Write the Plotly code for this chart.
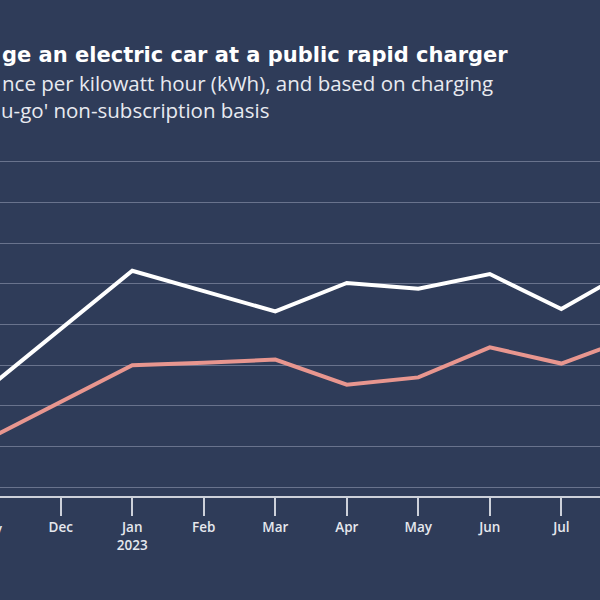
import plotly.graph_objects as go

months = ["Nov", "Dec", "Jan", "Feb", "Mar", "Apr", "May", "Jun", "Jul", "Aug"]
tick_labels = ["Nov", "Dec", "Jan<br>2023", "Feb", "Mar", "Apr", "May", "Jun", "Jul", "Aug"]
# pence per kWh
series_white = [62.3, 69.4, 76.6, 74.1, 71.6, 75.1, 74.4, 76.2, 71.9, 76.9]
series_pink = [56.0, 60.5, 65.0, 65.3, 65.7, 62.6, 63.5, 67.2, 65.2, 68.4]
grid_vals = [50, 55, 60, 65, 70, 75, 80, 85, 90]

title_text = "ge an electric car at a public rapid charger"
subtitle_1 = "nce per kilowatt hour (kWh), and based on charging"
subtitle_2 = "u-go' non-subscription basis"

BG = "#2f3c59"
AXIS = "#cdd1da"
GRID = "#69738d"
FONT = "Open Sans"

x = list(range(len(months)))

fig = go.Figure()
fig.add_trace(go.Scatter(x=x, y=series_white, mode="lines",
                         line=dict(color="#ffffff", width=4), hoverinfo="skip"))
fig.add_trace(go.Scatter(x=x, y=series_pink, mode="lines",
                         line=dict(color="#e8968f", width=4), hoverinfo="skip"))

fig.update_layout(
    width=600, height=600,
    paper_bgcolor=BG, plot_bgcolor=BG,
    margin=dict(l=0, r=0, t=140, b=104),
    showlegend=False,
    xaxis=dict(range=[0.150, 8.541], tickvals=x, ticktext=tick_labels,
               showgrid=False, zeroline=False, showline=True,
               linecolor=AXIS, linewidth=2,
               ticks="outside", ticklen=18, tickwidth=1.5, tickcolor=AXIS,
               tickfont=dict(family=FONT, size=13.5, color="#e6e8ee", weight=600)),
    yaxis=dict(range=[48.931, 92.666], tickvals=grid_vals, showticklabels=False,
               showgrid=True, gridcolor=GRID, gridwidth=1, zeroline=False,
               showline=False),
)

fig.add_annotation(xref="paper", yref="paper", x=-10.8 / 600, y=-0.0927,
                   text=months[0], showarrow=False, xanchor="center", yanchor="middle",
                   font=dict(family=FONT, size=13.5, color="#e6e8ee", weight=600))

fig.add_annotation(xref="paper", yref="paper", x=0.0, y=(496 - 55) / 356,
                   text=title_text, showarrow=False, xanchor="left", yanchor="middle",
                   font=dict(family="DejaVu Sans", size=21, color="#ffffff", weight=700))
fig.add_annotation(xref="paper", yref="paper", x=0.0, y=(496 - 83) / 356,
                   text=subtitle_1, showarrow=False, xanchor="left", yanchor="middle",
                   font=dict(family=FONT, size=20.5, color="#e8eaf0"))
fig.add_annotation(xref="paper", yref="paper", x=-0.002, y=(496 - 110) / 356,
                   text=subtitle_2, showarrow=False, xanchor="left", yanchor="middle",
                   font=dict(family=FONT, size=20.5, color="#e8eaf0"))

fig.write_html("out.html", config={"displayModeBar": False},
               post_script="document.body.style.margin='0';")
